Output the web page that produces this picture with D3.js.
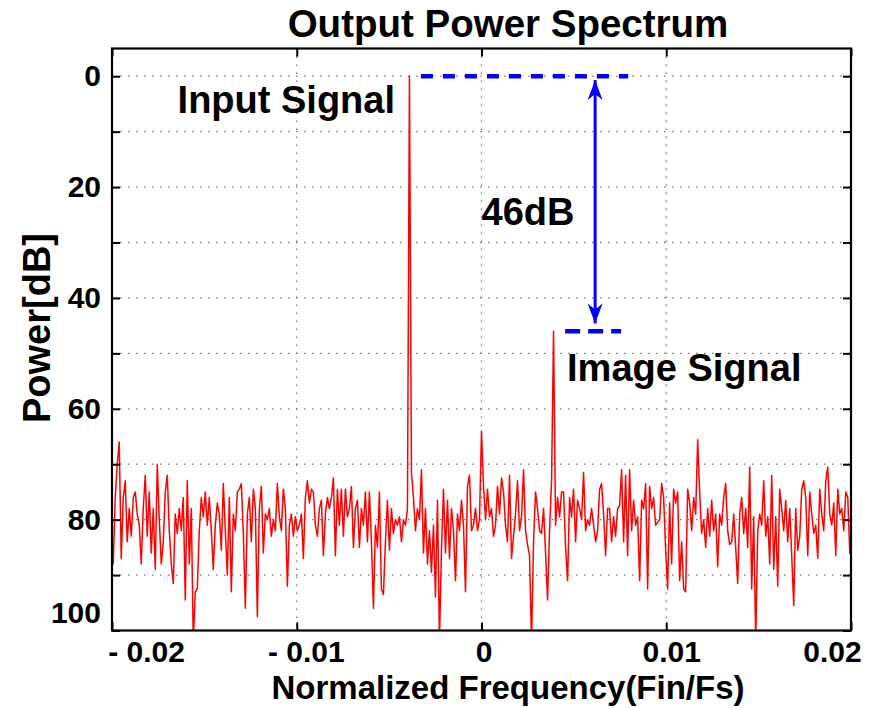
<!DOCTYPE html>
<html>
<head>
<meta charset="utf-8">
<script src="https://cdn.jsdelivr.net/npm/d3@7/dist/d3.min.js"></script>
<style>
    body { margin: 0; background: #fff; }
    text { font-family: "Liberation Sans", Arial, sans-serif; font-weight: bold; fill: #000; }
</style>
</head>
<body>
<div id="chart"></div>
<script>
// FFT bin spacing (input tone sits 36 bins left of DC, image 36 bins right)
const binStep = 0.0039 / 36;

// Power [dB], bins -186 .. -1
const powerLeft = [
    73, 82, 88, 76, 70, 66, 87, 76, 73, 84,
    78, 83, 76, 75, 79, 81, 88, 78, 72, 83,
    75, 86, 78, 89, 70, 80, 88, 84, 75, 72,
    82, 88, 91.5, 79, 82.5, 78, 82, 76, 94.5, 73,
    88, 78, 102, 93, 92.5, 82, 76, 79.5, 75, 81,
    76, 82, 89, 81, 77, 79, 85.5, 73.5, 82, 90,
    76, 93, 79, 82, 75, 74.5, 73.5, 82.5, 96, 79,
    76, 84, 74.5, 78, 97.5, 78, 74, 86, 79, 80,
    78, 83, 80, 82, 73.5, 79.5, 82, 74.5, 78, 92,
    81, 79, 83, 79.5, 82, 81, 79, 87, 76, 73,
    77, 74.5, 75, 81, 83, 78, 76.5, 86.5, 79, 76,
    78, 76, 72.5, 86.5, 74.5, 81, 74.5, 83, 74.5, 79.5,
    78, 74, 85, 78, 76.5, 85, 78, 81, 75, 84,
    75, 84, 96, 81, 85, 75, 92.5, 93.5, 84, 76.5,
    85.5, 78, 82.5, 80, 81, 79.5, 84, 80, 81, 78,
    0, 71.5, 76, 82, 78, 80, 71, 86, 78, 88,
    82, 89.5, 81, 94, 76.5, 102, 85.5, 74.5, 86, 76.5,
    87, 78, 82, 91, 79, 82, 76.5, 81, 93, 74,
    72, 82, 81, 78, 82, 80
];
// bin 0 (DC spur)
const powerDC = 64;
// bins 1 .. 186
const powerRight = [
    74, 80, 74.5, 79.5, 78, 83, 81, 74, 79, 72.5,
    75, 81, 84, 72, 87, 83, 79, 73, 82, 79.5,
    71, 82, 84.5, 86.5, 102, 84, 75, 78, 82, 82.5,
    78, 86, 94.5, 82, 73, 46, 81, 76, 79.5, 75,
    75, 85, 91, 76, 79.5, 74.5, 84, 76.5, 78, 80,
    71.5, 82, 80, 81, 78, 81, 84, 82, 74.5, 73.5,
    79, 86.5, 78, 78, 84, 79.5, 83, 78, 77.5, 71,
    84, 72, 86.5, 71, 82, 76.5, 81, 79.5, 91, 76.5,
    78, 73.5, 92.5, 74, 78, 76, 81, 80.5, 80, 73.5,
    76, 85.5, 92.5, 77, 88, 74.5, 77, 75, 91, 84,
    92.5, 93, 74.5, 77, 82, 76, 79, 65.6, 75, 82.5,
    80, 85, 78, 83, 76.5, 82, 79, 88.5, 79, 81,
    76, 73.5, 82, 84.5, 84, 79, 85, 91.5, 79, 76,
    82.5, 78, 85, 70.5, 92.5, 79.5, 102, 82, 79, 81,
    73, 83, 79.5, 88, 72, 89, 79.5, 92, 74.5, 78,
    82, 76.5, 84, 78, 86.5, 95.5, 78, 85.5, 83, 74.5,
    73, 76, 86.5, 75, 79, 82.5, 81, 87, 74.5, 79,
    82, 73, 70.5, 79, 81, 77, 86.5, 74.5, 79, 78,
    82, 75, 76, 86, 86.5, 82
];

const xTicks = [-0.02, -0.01, 0, 0.01, 0.02];
const xTickLabels = ['- 0.02', '- 0.01', '0', '0.01', '0.02'];
const yTicks = [0, 10, 20, 30, 40, 50, 60, 70, 80, 90, 100];
const yTickLabels = ['0', '', '20', '', '40', '', '60', '', '80', '', '100'];

// annotations (data units)
const levelMarks = [
    { db: 0, f0: -0.00328, f1: 0.00794, dash: '12,10' },
    { db: 46, f0: 0.00453, f1: 0.00756, dash: '15,8' }
];
const arrowSpan = { f: 0.00615, db0: 0.7, db1: 44.6 };
const notes = [
    { text: 'Input Signal', f: -0.01645, db: 6.7 },
    { text: '46dB', f: 0.0, db: 26.9 },
    { text: 'Image Signal', f: 0.00463, db: 54.9 }
];

const width = 883, height = 708;
const plot = { left: 112, right: 851, top: 48.5, bottom: 630.5 };

const svg = d3.select('#chart').append('svg')
    .attr('width', width)
    .attr('height', height);

const x = d3.scaleLinear().domain([-0.02, 0.02]).range([plot.left, plot.right]);
const y = d3.scaleLinear().domain([-5, 100]).range([plot.top, plot.bottom]);

// grid
const grid = svg.append('g')
    .attr('stroke', '#777')
    .attr('stroke-width', 1.3)
    .attr('stroke-dasharray', '1.5,6.5');
grid.selectAll('.gy').data(yTicks.filter(v => v < 100)).join('line')
    .attr('x1', plot.left).attr('x2', plot.right)
    .attr('y1', d => y(d)).attr('y2', d => y(d));
grid.selectAll('.gx').data(xTicks.filter(v => Math.abs(v) < 0.015)).join('line')
    .attr('y1', plot.top).attr('y2', plot.bottom)
    .attr('x1', d => x(d)).attr('x2', d => x(d));

// spectrum
svg.append('clipPath').attr('id', 'clip')
    .append('rect')
    .attr('x', plot.left).attr('y', plot.top)
    .attr('width', plot.right - plot.left).attr('height', plot.bottom - plot.top);

const power = powerLeft.concat([powerDC], powerRight);
const bins = power.map((p, k) => ({ f: (k - powerLeft.length) * binStep, p }));

svg.append('path')
    .datum(bins)
    .attr('clip-path', 'url(#clip)')
    .attr('fill', 'none')
    .attr('stroke', '#ff0000')
    .attr('stroke-width', 1.5)
    .attr('stroke-linejoin', 'round')
    .attr('d', d3.line().x(d => x(d.f)).y(d => y(d.p)));

// axes (ticks point inward on all four sides)
const fs = 30;
const left = svg.append('g').attr('transform', `translate(${plot.left},0)`)
    .call(d3.axisLeft(y).tickValues(yTicks).tickSize(-8).tickPadding(11)
        .tickFormat((d, i) => yTickLabels[i]));
const bottom = svg.append('g').attr('transform', `translate(0,${plot.bottom})`)
    .call(d3.axisBottom(x).tickValues(xTicks).tickSize(-8).tickPadding(10)
        .tickFormat((d, i) => xTickLabels[i]));
svg.append('g').attr('transform', `translate(${plot.right},0)`)
    .call(d3.axisRight(y).tickValues(yTicks).tickSize(-8).tickFormat(''));
svg.append('g').attr('transform', `translate(0,${plot.top})`)
    .call(d3.axisTop(x).tickValues(xTicks).tickSize(-8).tickFormat(''));

svg.selectAll('.domain').remove();
svg.selectAll('.tick line').attr('stroke', '#000').attr('stroke-width', 2);
svg.selectAll('.tick text').attr('font-size', fs).style('font-family', null);
left.selectAll('.tick text').filter(d => d === 100).attr('y', -18);
// end labels were nudged inward in the original figure
const xLabelShift = { '-0.02': 34, '-0.01': 9, '0': 2, '0.01': 5, '0.02': -19 };
bottom.selectAll('.tick text').attr('dx', d => xLabelShift[String(d)]);

svg.append('rect')
    .attr('x', plot.left).attr('y', plot.top)
    .attr('width', plot.right - plot.left).attr('height', plot.bottom - plot.top)
    .attr('fill', 'none')
    .attr('stroke', '#000')
    .attr('stroke-width', 2.2);

// title and axis labels
svg.append('text')
    .attr('x', 508).attr('y', 37)
    .attr('text-anchor', 'middle')
    .attr('font-size', 38.5)
    .text('Output Power Spectrum');
svg.append('text')
    .attr('x', 508).attr('y', 699)
    .attr('text-anchor', 'middle')
    .attr('font-size', 33)
    .text('Normalized Frequency(Fin/Fs)');
svg.append('text')
    .attr('transform', 'translate(50,328) rotate(-90)')
    .attr('text-anchor', 'middle')
    .attr('font-size', 38)
    .text('Power[dB]');

// blue markers
const blue = '#0000ff';
svg.selectAll('.level').data(levelMarks).join('line')
    .attr('x1', d => x(d.f0)).attr('x2', d => x(d.f1))
    .attr('y1', d => y(d.db)).attr('y2', d => y(d.db))
    .attr('stroke', blue)
    .attr('stroke-width', 4.5)
    .attr('stroke-dasharray', d => d.dash);

const defs = svg.append('defs');
defs.append('marker')
    .attr('id', 'head')
    .attr('viewBox', '0 -8 20 16')
    .attr('refX', 20).attr('refY', 0)
    .attr('markerUnits', 'userSpaceOnUse')
    .attr('markerWidth', 20).attr('markerHeight', 16)
    .attr('orient', 'auto-start-reverse')
    .append('path')
    .attr('d', 'M20,0 L0,-7.5 L6,0 L0,7.5 Z')
    .attr('fill', blue);

svg.append('line')
    .attr('x1', x(arrowSpan.f)).attr('x2', x(arrowSpan.f))
    .attr('y1', y(arrowSpan.db0)).attr('y2', y(arrowSpan.db1))
    .attr('stroke', blue)
    .attr('stroke-width', 3)
    .attr('marker-start', 'url(#head)')
    .attr('marker-end', 'url(#head)');

svg.selectAll('.note').data(notes).join('text')
    .attr('x', d => x(d.f)).attr('y', d => y(d.db))
    .attr('font-size', 38)
    .text(d => d.text);
</script>
</body>
</html>
